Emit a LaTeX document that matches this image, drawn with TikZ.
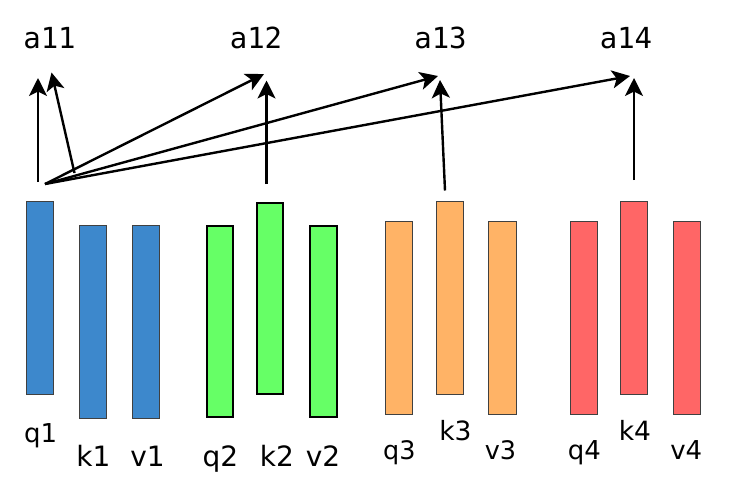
\documentclass[tikz,border=0pt]{standalone}
\usepackage{fontspec}
\setmainfont{DejaVu Sans}
\setmonofont{DejaVu Sans Mono}
\usetikzlibrary{arrows.meta}

\definecolor{grpblue}{HTML}{3D88CC}
\definecolor{grpgreen}{HTML}{66FF66}
\definecolor{grporange}{HTML}{FFB366}
\definecolor{grpred}{HTML}{FF6666}

\tikzset{
	bar/.style={draw=black!75, line width=0.8pt, minimum width=27.5pt, minimum height=193pt, inner sep=0pt, anchor=north},
	boldbar/.style={bar, draw=black, line width=2pt, minimum width=26.5pt, minimum height=191pt},
	vec/.style={font=\fontsize{28}{30}\selectfont, anchor=base, inner sep=0pt},
	att/.style={font=\ttfamily\fontsize{29}{31}\selectfont, inner sep=0pt},
	arr/.style={-{Stealth[length=18pt,width=18pt,inset=4.5pt]}, line width=2.4pt},
}

\begin{document}
\begin{tikzpicture}[x=1pt,y=-1pt]
		\useasboundingbox (0,0) rectangle (736,496);

		% blaue Gruppe
		\node[bar, fill=grpblue] (q1) at (40,201) {};
		\node[bar, fill=grpblue] (k1) at (93,225) {};
		\node[bar, fill=grpblue] (v1) at (146,225) {};

		% gruene Gruppe
		\node[boldbar, fill=grpgreen] (q2) at (220,225.3) {};
		\node[boldbar, fill=grpgreen] (k2) at (270,201.7) {};
		\node[boldbar, fill=grpgreen] (v2) at (323.5,225.3) {};

		% orange Gruppe
		\node[bar, fill=grporange] (q3) at (399,221) {};
		\node[bar, fill=grporange] (k3) at (450,201) {};
		\node[bar, fill=grporange] (v3) at (502.5,221) {};

		% rote Gruppe
		\node[bar, fill=grpred] (q4) at (584,221) {};
		\node[bar, fill=grpred] (k4) at (634,201) {};
		\node[bar, fill=grpred] (v4) at (687,221) {};

		% Beschriftungen
		\node[vec, font=\fontsize{26}{28}\selectfont] (lq1) at (40.7,442) {q1};
		\node[vec] (lk1) at (93.5,466) {k1};
		\node[vec] (lv1) at (147.5,466) {v1};
		\node[vec] (lq2) at (220.5,466) {q2};
		\node[vec] (lk2) at (277,466) {k2};
		\node[vec] (lv2) at (323,466) {v2};
		\node[vec, font=\fontsize{25.5}{28}\selectfont] (lq3) at (399.3,459.5) {q3};
		\node[vec, font=\fontsize{26.5}{28}\selectfont] (lk3) at (455.5,440) {k3};
		\node[vec, font=\fontsize{25.5}{28}\selectfont] (lv3) at (500.5,459.5) {v3};
		\node[vec, font=\fontsize{26}{28}\selectfont] (lq4) at (584.3,459.5) {q4};
		\node[vec, font=\fontsize{26.5}{28}\selectfont] (lk4) at (635,440) {k4};
		\node[vec, font=\fontsize{26}{28}\selectfont] (lv4) at (686.3,459.5) {v4};

		\node[att] (a11) at (49.5,38) {a11};
		\node[att] (a12) at (256,38) {a12};
		\node[att] (a13) at (440.5,38) {a13};
		\node[att] (a14) at (626,38) {a14};

		% Anfangs- und Endpunkte der Pfeile
		\coordinate (s11) at (38,182);
		\coordinate (s12) at (74.5,173);
		\coordinate (sq1) at (45,184);
		\coordinate (sk2) at (266.5,184);
		\coordinate (sk3) at (445,190.5);
		\coordinate (sk4) at (634,180);

		\coordinate (e11) at (38,78);
		\coordinate (e11b) at (51.5,72.5);
		\coordinate (e12) at (264,74);
		\coordinate (e12b) at (266.5,80.5);
		\coordinate (e13) at (438,76);
		\coordinate (e13b) at (440,80);
		\coordinate (e14) at (630,76);
		\coordinate (e14b) at (634,78);

		% Pfeile
		\draw[arr] (s11) -- (e11);
		\draw[arr] (s12) -- (e11b);
		\draw[arr] (sq1) -- (e12);
		\draw[arr] (sq1) -- (e13);
		\draw[arr] (sq1) -- (e14);
		\draw[arr] (sk2) -- (e12b);
		\draw[arr] (sk3) -- (e13b);
		\draw[arr] (sk4) -- (e14b);
	\end{tikzpicture}
\end{document}
